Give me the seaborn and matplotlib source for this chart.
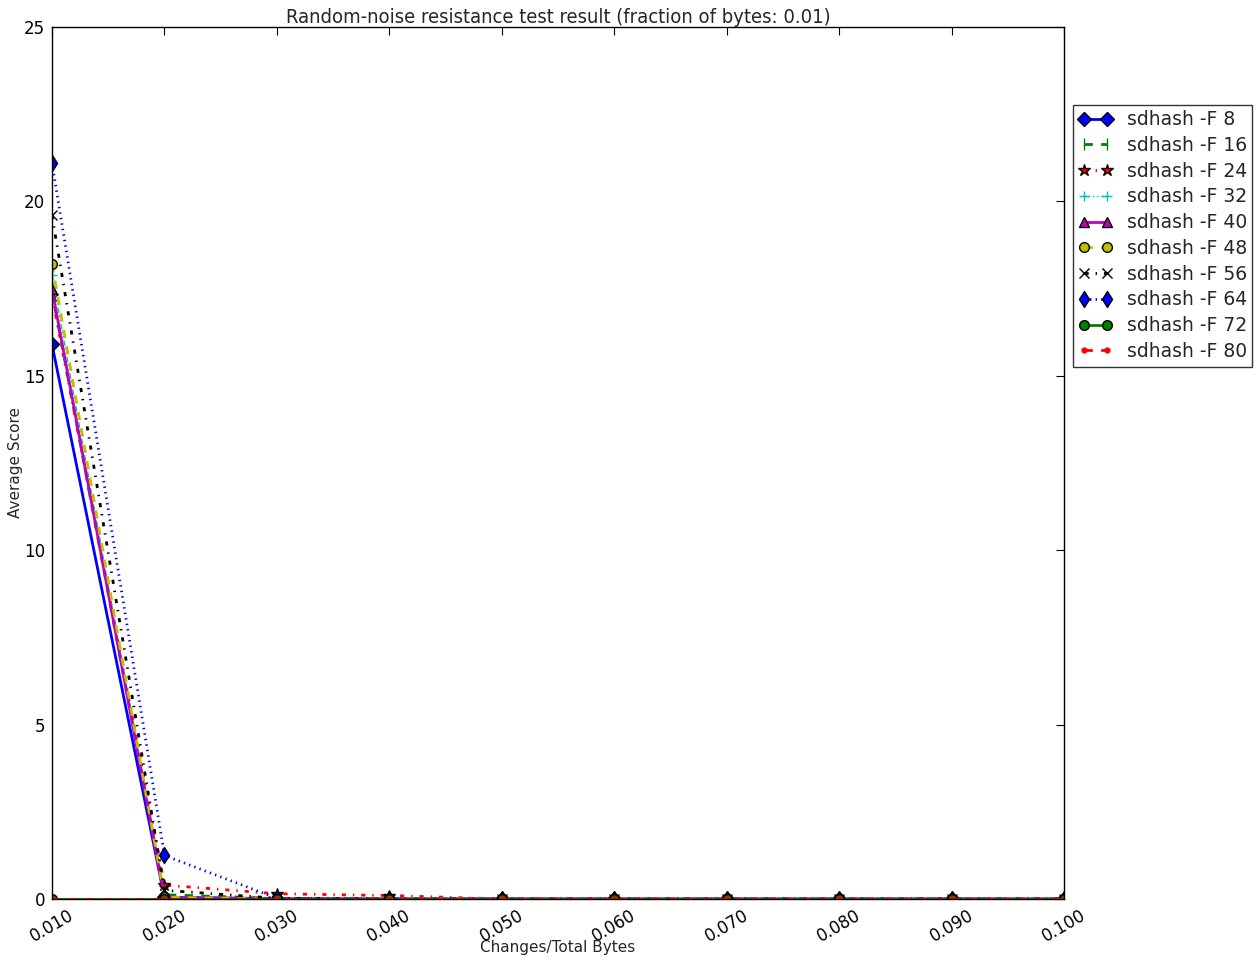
import matplotlib
matplotlib.use("Agg")
import matplotlib.pyplot as plt
import seaborn as sns
import numpy as np

# Fraction of changed bytes per test step
changes = [0.01, 0.02, 0.03, 0.04, 0.05, 0.06, 0.07, 0.08, 0.09, 0.10]
tick_labels = ["0.010", "0.020", "0.030", "0.040", "0.050",
               "0.060", "0.070", "0.080", "0.090", "0.100"]

# Average similarity score for each sdhash -F setting
f8 = [15.9, 0.05, 0.01, 0.0, 0.0, 0.0, 0.0, 0.0, 0.0, 0.0]
f16 = [17.4, 0.12, 0.02, 0.01, 0.0, 0.0, 0.0, 0.0, 0.0, 0.0]
f24 = [17.3, 0.40, 0.15, 0.10, 0.0, 0.0, 0.0, 0.0, 0.0, 0.0]
f32 = [17.9, 0.08, 0.01, 0.0, 0.0, 0.0, 0.0, 0.0, 0.0, 0.0]
f40 = [17.5, 0.05, 0.0, 0.0, 0.0, 0.0, 0.0, 0.0, 0.0, 0.0]
f48 = [18.2, 0.05, 0.0, 0.0, 0.0, 0.0, 0.0, 0.0, 0.0, 0.0]
f56 = [19.6, 0.25, 0.02, 0.0, 0.0, 0.0, 0.0, 0.0, 0.0, 0.0]
f64 = [21.1, 1.25, 0.02, 0.0, 0.0, 0.0, 0.0, 0.0, 0.0, 0.0]
f72 = [0.0, 0.0, 0.0, 0.0, 0.0, 0.0, 0.0, 0.0, 0.0, 0.0]
f80 = [0.0, 0.0, 0.0, 0.0, 0.0, 0.0, 0.0, 0.0, 0.0, 0.0]

labels = ["sdhash -F 8", "sdhash -F 16", "sdhash -F 24", "sdhash -F 32",
          "sdhash -F 40", "sdhash -F 48", "sdhash -F 56", "sdhash -F 64",
          "sdhash -F 72", "sdhash -F 80"]
series = [f8, f16, f24, f32, f40, f48, f56, f64, f72, f80]

B, G, R, C, M, Y, K = ((0, 0, 1), (0, 0.5, 0), (1, 0, 0), (0, 0.75, 0.75),
                       (0.75, 0, 0.75), (0.75, 0.75, 0), (0, 0, 0))
DASH = (0, (6, 6))
DASHDOT = (0, (3, 5, 1, 5))
DOT = (0, (1, 3))
styles = [
    dict(color=B, linestyle="-", marker="D", lw=2, mec="k"),
    dict(color=G, linestyle=DASH, marker="|", lw=2, mec=G, ms=8),
    dict(color=R, linestyle=DASHDOT, marker="*", lw=2, mec="k", ms=9),
    dict(color=C, linestyle=(0, (4, 2, 1, 2, 1, 2)), marker="+", lw=1, mec=C),
    dict(color=M, linestyle="-", marker="^", lw=2, mec="k"),
    dict(color=Y, linestyle=DASH, marker="o", lw=2, mec="k"),
    dict(color=K, linestyle=DASHDOT, marker="x", lw=2, mec="k"),
    dict(color=B, linestyle=DOT, marker="d", lw=2, mec="k", ms=8),
    dict(color=G, linestyle="-", marker="o", lw=2, mec="k"),
    dict(color=R, linestyle=DASH, marker=".", lw=2, mec=R),
]

sns.set_style("white")
plt.rcParams["font.family"] = ["DejaVu Sans"]
plt.rcParams["lines.scale_dashes"] = False
plt.rcParams["xtick.direction"] = "in"
plt.rcParams["ytick.direction"] = "in"

fig = plt.figure(figsize=(12.57, 9.59), dpi=100)
ax = fig.add_axes([52 / 1257, 1 - 899 / 959, (1064 - 52) / 1257, (899 - 27) / 959])

for vals, lab, st in zip(series, labels, styles):
    sns.lineplot(x=changes, y=vals, ax=ax, label=lab,
                 color=st["color"], linestyle=st["linestyle"], marker=st["marker"],
                 linewidth=st["lw"], markeredgecolor=st["mec"],
                 markeredgewidth=1.0, markersize=st.get("ms", 7))

ax.set_xlim(0.01, 0.10)
ax.set_ylim(0, 25)
ax.set_xticks(changes)
ax.set_xticklabels(tick_labels, rotation=30, ha="center")
ax.set_yticks([0, 5, 10, 15, 20, 25])
ax.tick_params(axis="both", which="both", direction="in", length=6, width=0.8,
               top=True, right=True, labelsize=12, colors="k", pad=5)
for sp in ax.spines.values():
    sp.set_color("k")
    sp.set_linewidth(1.0)

ax.set_xlabel("Changes/Total Bytes", fontsize=11, labelpad=-4)
ax.set_ylabel("Average Score", fontsize=11, labelpad=1)
ax.set_title("Random-noise resistance test result (fraction of bytes: 0.01)",
             fontsize=14.5, fontstretch="condensed", pad=3)

leg = ax.legend(loc="upper left", bbox_to_anchor=(1.009, 0.911), fontsize=13.5,
                frameon=True, fancybox=False, borderaxespad=0.0,
                handlelength=1.8, handletextpad=0.75, labelspacing=0.36,
                borderpad=0.3, numpoints=2)
leg.get_frame().set_edgecolor("k")
leg.get_frame().set_linewidth(1.0)

fig.savefig("out.png", dpi=100)
